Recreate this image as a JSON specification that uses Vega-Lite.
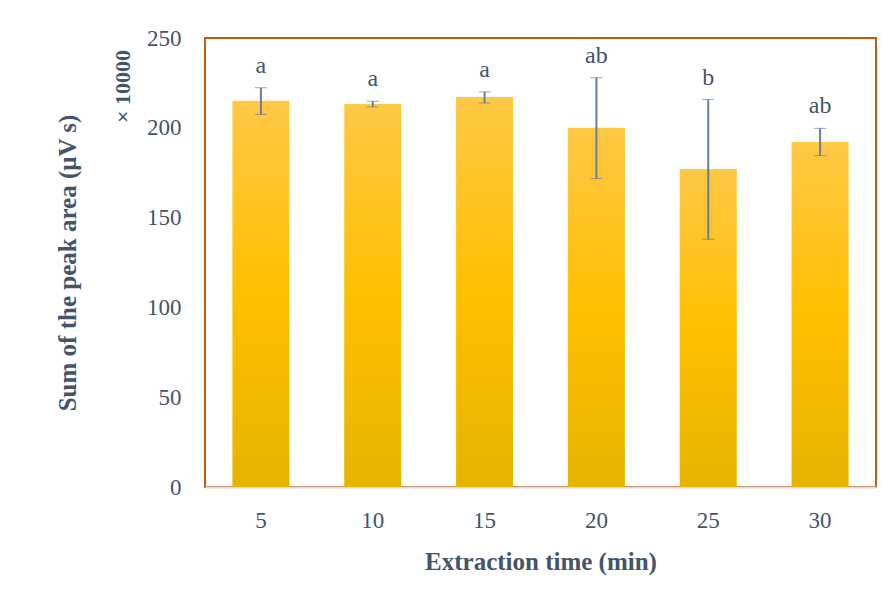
{
  "$schema": "https://vega.github.io/schema/vega-lite/v6.json",
  "autosize": "none",
  "width": 671,
  "height": 449,
  "padding": {"left": 205, "top": 38, "right": 20, "bottom": 115},
  "background": "white",
  "config": {
    "view": {"stroke": "#C55A11", "strokeWidth": 2},
    "font": "Liberation Serif"
  },
  "data": {
    "values": [
      {"time": "5", "mean": 215, "lo": 207.5, "hi": 222.3, "group": "a"},
      {"time": "10", "mean": 213.3, "lo": 211.6, "hi": 214.8, "group": "a"},
      {"time": "15", "mean": 217.1, "lo": 213.8, "hi": 220.0, "group": "a"},
      {"time": "20", "mean": 200, "lo": 171.7, "hi": 227.9, "group": "ab"},
      {"time": "25", "mean": 177, "lo": 137.9, "hi": 215.7, "group": "b"},
      {"time": "30", "mean": 192.1, "lo": 184.5, "hi": 199.7, "group": "ab"}
    ]
  },
  "encoding": {
    "x": {
      "field": "time",
      "type": "ordinal",
      "sort": null,
      "scale": {"paddingInner": 0.49, "paddingOuter": 0.245},
      "axis": {
        "title": "Extraction time (min)",
        "labelAngle": 0,
        "labelFont": "Liberation Serif",
        "labelFontSize": 23,
        "labelColor": "#44546A",
        "labelPadding": 22,
        "ticks": false,
        "domainColor": "#D9D9D9",
        "domainWidth": 2,
        "titleFont": "Liberation Serif",
        "titleFontSize": 25,
        "titleFontWeight": "bold",
        "titleColor": "#44546A",
        "titlePadding": 17
      }
    }
  },
  "layer": [
    {
      "mark": {
        "type": "bar",
        "color": {
          "gradient": "linear",
          "x1": 0, "y1": 0, "x2": 0, "y2": 1,
          "stops": [
            {"offset": 0, "color": "#FFC846"},
            {"offset": 0.5, "color": "#FFC000"},
            {"offset": 1, "color": "#E6B400"}
          ]
        }
      },
      "encoding": {
        "y": {
          "field": "mean",
          "type": "quantitative",
          "scale": {"domain": [0, 250], "nice": false},
          "axis": {
            "orient": "left",
            "values": [0, 50, 100, 150, 200, 250],
            "title": "Sum of the peak area (μV s)",
            "titleFont": "Liberation Serif",
            "titleFontSize": 25,
            "titleFontWeight": "bold",
            "titleColor": "#44546A",
            "titleX": -138,
            "titleBaseline": "middle",
            "labelFont": "Liberation Serif",
            "labelFontSize": 23,
            "labelColor": "#44546A",
            "labelPadding": 24,
            "ticks": false,
            "domain": false,
            "grid": false
          }
        }
      }
    },
    {
      "mark": {"type": "errorbar", "ticks": {"size": 12, "color": "#6A7D98", "strokeWidth": 2}, "rule": {"color": "#6A7D98", "strokeWidth": 2}},
      "encoding": {
        "y": {
          "field": "lo",
          "type": "quantitative",
          "scale": {"domain": [0, 250], "nice": false},
          "axis": {
            "orient": "left",
            "title": "× 10000",
            "titleFont": "Liberation Serif",
            "titleFontSize": 22,
            "titleFontWeight": "bold",
            "titleColor": "#44546A",
            "titleX": -83,
            "titleY": 48,
            "titleBaseline": "middle",
            "labels": false,
            "ticks": false,
            "domain": false,
            "grid": false
          }
        },
        "y2": {"field": "hi"}
      }
    },
    {
      "mark": {"type": "text", "baseline": "alphabetic", "dy": -15, "font": "Liberation Serif", "fontSize": 24, "color": "#44546A"},
      "encoding": {
        "y": {"field": "hi", "type": "quantitative", "scale": {"domain": [0, 250], "nice": false}, "axis": null},
        "text": {"field": "group"}
      }
    }
  ],
  "resolve": {"axis": {"y": "independent"}}
}
